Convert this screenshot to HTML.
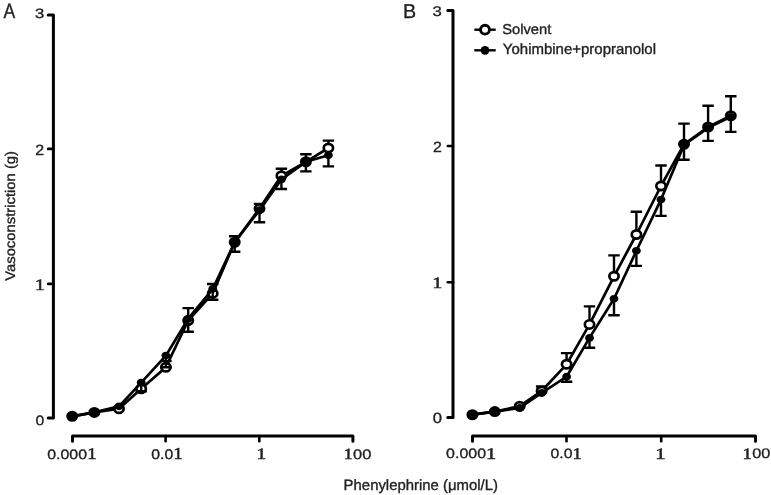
<!DOCTYPE html>
<html><head><meta charset="utf-8"><style>
html,body{margin:0;padding:0;background:#fff;overflow:hidden;}
svg{display:block;font-family:"Liberation Sans", sans-serif;will-change:transform;}
</style></head><body>
<svg width="771" height="495" viewBox="0 0 771 495">
<rect width="771" height="495" fill="#fff"/>
<path d="M48.2 14.9H53.4V417.9H48.2" fill="none" stroke="#000" stroke-width="3.0" stroke-linejoin="round" stroke-linecap="round"/>
<path d="M48.2 148.9H53.4" stroke="#000" stroke-width="2.6" stroke-linecap="round"/>
<path d="M48.2 283.9H53.4" stroke="#000" stroke-width="2.6" stroke-linecap="round"/>
<path d="M72.5 441.2V436.0H352.9V441.2" fill="none" stroke="#000" stroke-width="3.0" stroke-linejoin="round" stroke-linecap="round"/>
<path d="M165.6 436.0V441.2" stroke="#000" stroke-width="2.6" stroke-linecap="round"/>
<path d="M259.3 436.0V441.2" stroke="#000" stroke-width="2.6" stroke-linecap="round"/>
<path d="M447.8 10.6H453.0V417.6H447.8" fill="none" stroke="#000" stroke-width="3.0" stroke-linejoin="round" stroke-linecap="round"/>
<path d="M447.8 146.0H453.0" stroke="#000" stroke-width="2.6" stroke-linecap="round"/>
<path d="M447.8 282.2H453.0" stroke="#000" stroke-width="2.6" stroke-linecap="round"/>
<path d="M472.5 441.2V436.0H755.5V441.2" fill="none" stroke="#000" stroke-width="3.0" stroke-linejoin="round" stroke-linecap="round"/>
<path d="M566.5 436.0V441.2" stroke="#000" stroke-width="2.6" stroke-linecap="round"/>
<path d="M661.2 436.0V441.2" stroke="#000" stroke-width="2.6" stroke-linecap="round"/>
<polyline points="72.2,416.3 94.3,412.4 119.0,408.7 141.2,388.8 165.9,367.2 188.2,320.5 212.7,293.4 234.7,242.2 259.5,208.6 281.4,175.8 305.9,161.8 328.4,148.0" fill="none" stroke="#000" stroke-width="2.7" stroke-linejoin="round"/>
<path d="M165.9 367.2V361.1M160.2 361.1H171.6" stroke="#000" stroke-width="2.4" fill="none"/>
<path d="M188.2 320.5V308.1M182.5 308.1H193.9" stroke="#000" stroke-width="2.4" fill="none"/>
<path d="M212.7 293.4V284.0M207.0 284.0H218.4" stroke="#000" stroke-width="2.4" fill="none"/>
<path d="M234.7 242.2V236.3M229.0 236.3H240.4" stroke="#000" stroke-width="2.4" fill="none"/>
<path d="M259.5 208.6V203.9M253.8 203.9H265.2" stroke="#000" stroke-width="2.4" fill="none"/>
<path d="M281.4 175.8V168.8M275.7 168.8H287.1" stroke="#000" stroke-width="2.4" fill="none"/>
<path d="M305.9 161.8V154.2M300.2 154.2H311.6" stroke="#000" stroke-width="2.4" fill="none"/>
<path d="M328.4 148.0V140.6M322.7 140.6H334.1" stroke="#000" stroke-width="2.4" fill="none"/>
<ellipse cx="72.2" cy="416.3" rx="4.65" ry="4.15" fill="#fff" stroke="#000" stroke-width="2.7"/>
<ellipse cx="94.3" cy="412.4" rx="4.65" ry="4.15" fill="#fff" stroke="#000" stroke-width="2.7"/>
<ellipse cx="119.0" cy="408.7" rx="4.65" ry="4.15" fill="#fff" stroke="#000" stroke-width="2.7"/>
<ellipse cx="141.2" cy="388.8" rx="4.65" ry="4.15" fill="#fff" stroke="#000" stroke-width="2.7"/>
<ellipse cx="165.9" cy="367.2" rx="4.65" ry="4.15" fill="#fff" stroke="#000" stroke-width="2.7"/>
<ellipse cx="188.2" cy="320.5" rx="4.65" ry="4.15" fill="#fff" stroke="#000" stroke-width="2.7"/>
<ellipse cx="212.7" cy="293.4" rx="4.65" ry="4.15" fill="#fff" stroke="#000" stroke-width="2.7"/>
<ellipse cx="234.7" cy="242.2" rx="4.65" ry="4.15" fill="#fff" stroke="#000" stroke-width="2.7"/>
<ellipse cx="259.5" cy="208.6" rx="4.65" ry="4.15" fill="#fff" stroke="#000" stroke-width="2.7"/>
<ellipse cx="281.4" cy="175.8" rx="4.65" ry="4.15" fill="#fff" stroke="#000" stroke-width="2.7"/>
<ellipse cx="305.9" cy="161.8" rx="4.65" ry="4.15" fill="#fff" stroke="#000" stroke-width="2.7"/>
<ellipse cx="328.4" cy="148.0" rx="4.65" ry="4.15" fill="#fff" stroke="#000" stroke-width="2.7"/>
<polyline points="72.2,416.3 94.3,412.4 119.0,406.3 141.2,382.6 165.9,355.6 188.2,318.7 212.7,289.0 234.7,242.2 259.5,210.1 281.4,179.5 305.9,161.8 328.4,155.3" fill="none" stroke="#000" stroke-width="2.7" stroke-linejoin="round"/>
<path d="M141.2 382.6V391.2M135.5 391.2H146.9" stroke="#000" stroke-width="2.4" fill="none"/>
<path d="M165.9 355.6V367.2M160.2 367.2H171.6" stroke="#000" stroke-width="2.4" fill="none"/>
<path d="M188.2 318.7V331.7M182.5 331.7H193.9" stroke="#000" stroke-width="2.4" fill="none"/>
<path d="M212.7 289.0V299.7M207.0 299.7H218.4" stroke="#000" stroke-width="2.4" fill="none"/>
<path d="M234.7 242.2V251.7M229.0 251.7H240.4" stroke="#000" stroke-width="2.4" fill="none"/>
<path d="M259.5 210.1V222.3M253.8 222.3H265.2" stroke="#000" stroke-width="2.4" fill="none"/>
<path d="M281.4 179.5V189.0M275.7 189.0H287.1" stroke="#000" stroke-width="2.4" fill="none"/>
<path d="M305.9 161.8V171.4M300.2 171.4H311.6" stroke="#000" stroke-width="2.4" fill="none"/>
<path d="M328.4 155.3V166.4M322.7 166.4H334.1" stroke="#000" stroke-width="2.4" fill="none"/>
<ellipse cx="72.2" cy="416.3" rx="4.4" ry="3.9" fill="#000"/>
<ellipse cx="94.3" cy="412.4" rx="4.4" ry="3.9" fill="#000"/>
<ellipse cx="119.0" cy="406.3" rx="4.4" ry="3.9" fill="#000"/>
<ellipse cx="141.2" cy="382.6" rx="4.4" ry="3.9" fill="#000"/>
<ellipse cx="165.9" cy="355.6" rx="4.4" ry="3.9" fill="#000"/>
<ellipse cx="188.2" cy="318.7" rx="4.4" ry="3.9" fill="#000"/>
<ellipse cx="212.7" cy="289.0" rx="4.4" ry="3.9" fill="#000"/>
<ellipse cx="234.7" cy="242.2" rx="4.4" ry="3.9" fill="#000"/>
<ellipse cx="259.5" cy="210.1" rx="4.4" ry="3.9" fill="#000"/>
<ellipse cx="281.4" cy="179.5" rx="4.4" ry="3.9" fill="#000"/>
<ellipse cx="305.9" cy="161.8" rx="4.4" ry="3.9" fill="#000"/>
<ellipse cx="328.4" cy="155.3" rx="4.4" ry="3.9" fill="#000"/>
<polyline points="472.4,414.7 494.8,411.6 519.7,406.2 541.6,391.0 566.6,364.3 589.5,324.4 614.0,276.3 636.4,234.5 661.0,186.0 684.0,144.3 708.1,127.0 730.8,115.8" fill="none" stroke="#000" stroke-width="2.7" stroke-linejoin="round"/>
<path d="M541.6 391.0V386.5M535.9 386.5H547.3" stroke="#000" stroke-width="2.4" fill="none"/>
<path d="M566.6 364.3V353.1M560.9 353.1H572.3" stroke="#000" stroke-width="2.4" fill="none"/>
<path d="M589.5 324.4V306.4M583.8 306.4H595.2" stroke="#000" stroke-width="2.4" fill="none"/>
<path d="M614.0 276.3V255.4M608.3 255.4H619.7" stroke="#000" stroke-width="2.4" fill="none"/>
<path d="M636.4 234.5V211.8M630.7 211.8H642.1" stroke="#000" stroke-width="2.4" fill="none"/>
<path d="M661.0 186.0V165.5M655.3 165.5H666.7" stroke="#000" stroke-width="2.4" fill="none"/>
<path d="M684.0 144.3V123.6M678.3 123.6H689.7" stroke="#000" stroke-width="2.4" fill="none"/>
<path d="M708.1 127.0V105.7M702.4 105.7H713.8" stroke="#000" stroke-width="2.4" fill="none"/>
<path d="M730.8 115.8V96.3M725.1 96.3H736.5" stroke="#000" stroke-width="2.4" fill="none"/>
<ellipse cx="472.4" cy="414.7" rx="4.65" ry="4.15" fill="#fff" stroke="#000" stroke-width="2.7"/>
<ellipse cx="494.8" cy="411.6" rx="4.65" ry="4.15" fill="#fff" stroke="#000" stroke-width="2.7"/>
<ellipse cx="519.7" cy="406.2" rx="4.65" ry="4.15" fill="#fff" stroke="#000" stroke-width="2.7"/>
<ellipse cx="541.6" cy="391.0" rx="4.65" ry="4.15" fill="#fff" stroke="#000" stroke-width="2.7"/>
<ellipse cx="566.6" cy="364.3" rx="4.65" ry="4.15" fill="#fff" stroke="#000" stroke-width="2.7"/>
<ellipse cx="589.5" cy="324.4" rx="4.65" ry="4.15" fill="#fff" stroke="#000" stroke-width="2.7"/>
<ellipse cx="614.0" cy="276.3" rx="4.65" ry="4.15" fill="#fff" stroke="#000" stroke-width="2.7"/>
<ellipse cx="636.4" cy="234.5" rx="4.65" ry="4.15" fill="#fff" stroke="#000" stroke-width="2.7"/>
<ellipse cx="661.0" cy="186.0" rx="4.65" ry="4.15" fill="#fff" stroke="#000" stroke-width="2.7"/>
<ellipse cx="684.0" cy="144.3" rx="4.65" ry="4.15" fill="#fff" stroke="#000" stroke-width="2.7"/>
<ellipse cx="708.1" cy="127.0" rx="4.65" ry="4.15" fill="#fff" stroke="#000" stroke-width="2.7"/>
<ellipse cx="730.8" cy="115.8" rx="4.65" ry="4.15" fill="#fff" stroke="#000" stroke-width="2.7"/>
<polyline points="472.4,414.7 494.8,411.6 519.7,407.9 541.6,393.0 566.6,376.7 589.5,337.9 614.0,298.8 636.4,250.8 661.0,199.6 684.0,145.0 708.1,127.8 730.8,116.8" fill="none" stroke="#000" stroke-width="2.7" stroke-linejoin="round"/>
<path d="M566.6 376.7V381.7M560.9 381.7H572.3" stroke="#000" stroke-width="2.4" fill="none"/>
<path d="M589.5 337.9V347.7M583.8 347.7H595.2" stroke="#000" stroke-width="2.4" fill="none"/>
<path d="M614.0 298.8V315.2M608.3 315.2H619.7" stroke="#000" stroke-width="2.4" fill="none"/>
<path d="M636.4 250.8V265.9M630.7 265.9H642.1" stroke="#000" stroke-width="2.4" fill="none"/>
<path d="M661.0 199.6V215.9M655.3 215.9H666.7" stroke="#000" stroke-width="2.4" fill="none"/>
<path d="M684.0 145.0V159.8M678.3 159.8H689.7" stroke="#000" stroke-width="2.4" fill="none"/>
<path d="M708.1 127.8V140.9M702.4 140.9H713.8" stroke="#000" stroke-width="2.4" fill="none"/>
<path d="M730.8 116.8V131.9M725.1 131.9H736.5" stroke="#000" stroke-width="2.4" fill="none"/>
<ellipse cx="472.4" cy="414.7" rx="4.4" ry="3.9" fill="#000"/>
<ellipse cx="494.8" cy="411.6" rx="4.4" ry="3.9" fill="#000"/>
<ellipse cx="519.7" cy="407.9" rx="4.4" ry="3.9" fill="#000"/>
<ellipse cx="541.6" cy="393.0" rx="4.4" ry="3.9" fill="#000"/>
<ellipse cx="566.6" cy="376.7" rx="4.4" ry="3.9" fill="#000"/>
<ellipse cx="589.5" cy="337.9" rx="4.4" ry="3.9" fill="#000"/>
<ellipse cx="614.0" cy="298.8" rx="4.4" ry="3.9" fill="#000"/>
<ellipse cx="636.4" cy="250.8" rx="4.4" ry="3.9" fill="#000"/>
<ellipse cx="661.0" cy="199.6" rx="4.4" ry="3.9" fill="#000"/>
<ellipse cx="684.0" cy="145.0" rx="4.4" ry="3.9" fill="#000"/>
<ellipse cx="708.1" cy="127.8" rx="4.4" ry="3.9" fill="#000"/>
<ellipse cx="730.8" cy="116.8" rx="4.4" ry="3.9" fill="#000"/>
<g fill="#222" stroke="#222" stroke-width="0.35" text-rendering="geometricPrecision">
<text transform="translate(3.50,18.08) scale(0.8351,0.9867)" font-size="21">A</text>
<text transform="translate(403.01,18.08) scale(0.9362,0.9533)" font-size="21">B</text>
<text transform="translate(34.98,18.21) scale(1.1097,0.9021)" font-size="15">3</text>
<text transform="translate(35.30,154.58) scale(1.0667,0.9909)" font-size="15">2</text>
<text transform="translate(35.47,424.83) scale(1.0500,0.9043)" font-size="15">0</text>
<text transform="translate(432.58,16.09) scale(1.1097,0.9277)" font-size="15">3</text>
<text transform="translate(432.90,151.98) scale(1.0667,0.9909)" font-size="15">2</text>
<text transform="translate(432.86,422.98) scale(1.1125,0.9913)" font-size="15">0</text>
<text transform="translate(47.17,458.58) scale(1.0604,0.9083)" font-size="15">0.000</text>
<text transform="translate(151.27,458.55) scale(1.0537,0.9333)" font-size="15">0.0</text>
<text transform="translate(353.06,458.60) scale(1.0954,0.9106)" font-size="15">00</text>
<text transform="translate(446.07,457.78) scale(1.0658,0.9083)" font-size="15">0.000</text>
<text transform="translate(550.47,458.09) scale(1.0537,0.9000)" font-size="15">0.0</text>
<text transform="translate(752.26,458.30) scale(1.0831,0.9191)" font-size="15">00</text>
<text transform="translate(502.17,34.30) scale(1.0031,0.9750)" font-size="14.7">Solvent</text>
<text transform="translate(502.87,54.04) scale(1.0059,1.0059)" font-size="14.9">Yohimbine+propranolol</text>
<text transform="translate(343.62,490.25) scale(1.0069,1.0069)" font-size="14.8">Phenylephrine (μmol/L)</text>
<text transform="translate(34.67,290.07) scale(1.3565,1.0600)" font-size="15" font-family="Liberation Serif" stroke-width="0.45">1</text>
<text transform="translate(432.27,287.77) scale(1.3565,1.0600)" font-size="15" font-family="Liberation Serif" stroke-width="0.45">1</text>
<text transform="translate(87.29,459.46) scale(1.2522,1.0900)" font-size="15" font-family="Liberation Serif" stroke-width="0.45">1</text>
<text transform="translate(173.37,459.46) scale(1.2696,1.1200)" font-size="15" font-family="Liberation Serif" stroke-width="0.45">1</text>
<text transform="translate(256.45,459.37) scale(1.2870,1.0700)" font-size="15" font-family="Liberation Serif" stroke-width="0.45">1</text>
<text transform="translate(343.39,459.07) scale(1.2522,1.0400)" font-size="15" font-family="Liberation Serif" stroke-width="0.45">1</text>
<text transform="translate(486.07,458.66) scale(1.3565,1.0900)" font-size="15" font-family="Liberation Serif" stroke-width="0.45">1</text>
<text transform="translate(572.61,458.97) scale(1.2348,1.0800)" font-size="15" font-family="Liberation Serif" stroke-width="0.45">1</text>
<text transform="translate(655.33,458.87) scale(1.3913,1.0700)" font-size="15" font-family="Liberation Serif" stroke-width="0.45">1</text>
<text transform="translate(742.59,458.87) scale(1.2522,1.0700)" font-size="15" font-family="Liberation Serif" stroke-width="0.45">1</text>
<text transform="translate(15.3,280.8) rotate(-90) scale(0.995,0.94)" font-size="14.9" fill="#222">Vasoconstriction (g)</text>
</g>
<path d="M474.3 29.7H495.7" stroke="#000" stroke-width="2.4"/>
<circle cx="485" cy="29.7" r="4.45" fill="#fff" stroke="#000" stroke-width="2.9"/>
<path d="M474.3 50.3H495.7" stroke="#000" stroke-width="2.4"/>
<circle cx="485" cy="50.3" r="4.4" fill="#000"/>
</svg>
</body></html>
